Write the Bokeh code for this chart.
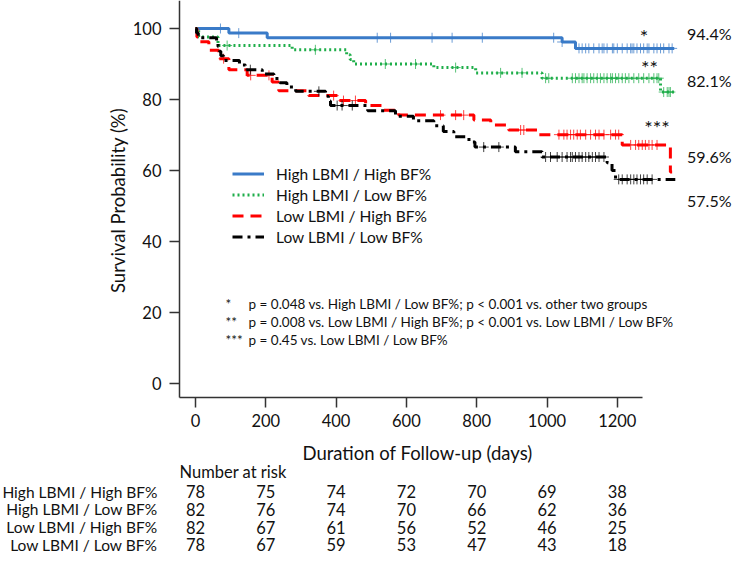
import numpy as np
from math import pi
from bokeh.plotting import figure
from bokeh.models import Range1d, FixedTicker, Legend, LegendItem
from bokeh.core.properties import value
from bokeh.embed import file_html
from bokeh.resources import INLINE

FONT = "Lato"

groups = ["High LBMI / High BF%", "High LBMI / Low BF%",
          "Low LBMI / High BF%", "Low LBMI / Low BF%"]

# Kaplan-Meier step points (days, survival %) and censor times (days)
hh_t = [0, 95, 204, 1043, 1081, 1362]
hh_s = [100, 98.7, 97.4, 96.2, 94.4, 94.4]
hh_c = [71, 123, 517, 555, 673, 730, 816, 1019, 1043, 1091, 1100, 1110, 1119, 1133,
        1148, 1157, 1162, 1171, 1186, 1190, 1200, 1214, 1228, 1238, 1242, 1247, 1256,
        1266, 1275, 1285, 1290, 1304, 1313, 1323, 1332, 1347, 1356]

hl_t = [0, 9, 64, 275, 430, 440, 450, 678, 797, 986, 1323, 1365]
hl_s = [100, 97.6, 95.2, 94.0, 92.6, 91.3, 90.0, 89.0, 87.5, 86.0, 82.1, 82.1]
hl_c = [90, 341, 540, 626, 740, 868, 929, 996, 1005, 1072, 1081, 1091, 1100, 1105,
        1114, 1124, 1133, 1143, 1152, 1162, 1171, 1181, 1186, 1195, 1204, 1214, 1223,
        1233, 1247, 1261, 1275, 1290, 1304, 1313, 1318, 1332, 1342, 1347, 1351]

lh_t = [0, 4, 9, 38, 66, 95, 147, 218, 237, 322, 408, 484, 536, 578, 792, 840, 891,
        972, 1214, 1351, 1356]
lh_s = [100, 97.6, 96.3, 93.9, 91.5, 88.4, 86.8, 84.9, 82.5, 81.1, 79.7, 78.3, 77.0,
        75.6, 74.2, 72.8, 71.4, 70.1, 67.2, 59.6, 59.6]
lh_c = [80, 157, 209, 393, 421, 455, 697, 740, 763, 925, 934, 1034, 1048, 1057, 1067,
        1076, 1086, 1095, 1110, 1124, 1138, 1148, 1162, 1181, 1195, 1204, 1238, 1252,
        1261, 1271, 1280, 1290, 1299, 1313]

ll_t = [0, 3, 8, 60, 64, 68, 72, 80, 125, 142, 190, 223, 240, 260, 285, 370, 378, 384,
        490, 569, 620, 678, 705, 735, 778, 795, 910, 986, 1171, 1185, 1195, 1365]
ll_s = [100, 98.7, 97.4, 96.2, 94.9, 93.6, 92.3, 91.0, 89.7, 88.4, 87.2, 85.9, 84.7,
        83.5, 82.3, 80.9, 79.6, 78.3, 76.8, 75.3, 74.0, 72.6, 71.0, 69.5, 68.0, 66.6,
        65.3, 63.8, 62.2, 60.0, 57.5, 57.5]
ll_c = [156, 351, 403, 417, 446, 820, 863, 996, 1010, 1029, 1043, 1057, 1067, 1072,
        1081, 1091, 1100, 1110, 1119, 1129, 1138, 1148, 1162, 1204, 1214, 1228, 1238,
        1247, 1256, 1266, 1275, 1285, 1299]

final_pct = ["94.4%", "82.1%", "59.6%", "57.5%"]
stars = ["*", "**", "***"]
notes = ["p = 0.048 vs. High LBMI / Low BF%; p < 0.001 vs. other two groups",
         "p = 0.008 vs. Low LBMI / High BF%; p < 0.001 vs. Low LBMI / Low BF%",
         "p = 0.45 vs. Low LBMI /  Low BF%"]

risk_days = [0, 200, 400, 600, 800, 1000, 1200]
risk_hh = [78, 75, 74, 72, 70, 69, 38]
risk_hl = [82, 76, 74, 70, 66, 62, 36]
risk_lh = [82, 67, 61, 56, 52, 46, 25]
risk_ll = [78, 67, 59, 53, 47, 43, 18]

x_ticks = [0, 200, 400, 600, 800, 1000, 1200]
y_ticks = [0, 20, 40, 60, 80, 100]

colors = ["#3a7bc8", "#1fae4a", "#ff0000", "#000000"]
dashes = ["solid", "2 3", "11 7", "10 5 3 5"]

series = [(hh_t, hh_s, hh_c), (hl_t, hl_s, hl_c), (lh_t, lh_s, lh_c), (ll_t, ll_s, ll_c)]
risks = [risk_hh, risk_hl, risk_lh, risk_ll]

TXT = "#111111"
W, H = 733, 558

# layout helpers: pixel position on the canvas -> data coordinates
X0_PX, DAY_PX = 195.0, 0.3515      # pixel of day 0, pixels per day
Y0_PX, PCT_PX = 383.0, 3.55        # pixel of 0 %, pixels per %


def dx(px):
    return (px - X0_PX) / DAY_PX


def dy(py):
    return (Y0_PX - py) / PCT_PX


p = figure(width=W, height=H, x_range=Range1d(dx(0), dx(W)),
           y_range=Range1d(dy(H), dy(0)), output_backend="svg",
           toolbar_location=None, min_border=0, min_border_left=0,
           min_border_right=0, min_border_top=0, min_border_bottom=0)
p.outline_line_color = None
p.grid.visible = False

x_axis_y = dy(397)
y_axis_x = dx(179)
for ax in (p.xaxis[0], p.yaxis[0]):
    ax.axis_line_color = "#333333"
    ax.axis_line_width = 1.5
    ax.major_tick_line_color = "#333333"
    ax.major_tick_line_width = 1.5
    ax.major_tick_out = 10
    ax.major_tick_in = 0
    ax.minor_tick_line_color = None
    ax.major_label_text_font = FONT
    ax.major_label_text_font_size = "16.5px"
    ax.major_label_text_color = TXT
    ax.major_label_standoff = 6
p.xaxis.ticker = FixedTicker(ticks=x_ticks)
p.yaxis.ticker = FixedTicker(ticks=y_ticks)
p.xaxis.fixed_location = x_axis_y
p.yaxis.fixed_location = y_axis_x
p.xaxis.bounds = (y_axis_x, dx(642))
p.yaxis.bounds = (x_axis_y, dy(0))
p.yaxis.major_label_standoff = 8

items = []
for (t, s, c), col, dash, name in zip(series, colors, dashes, groups):
    r = p.step(x=t, y=s, mode="after", line_color=col, line_width=3, line_dash=dash)
    t_arr = np.array(t)
    s_arr = np.array(s)
    idx = np.searchsorted(t_arr, np.array(c), side="right") - 1
    p.scatter(x=c, y=s_arr[idx], marker="cross", size=10, line_color=col,
              line_width=1, line_alpha=0.75)
    items.append(LegendItem(label=name, renderers=[r]))

legend = Legend(items=items, location=(232, 311), label_text_font=FONT,
                label_text_font_size="15.5px", label_text_color=TXT, glyph_width=32,
                glyph_height=21, label_height=21, spacing=0, padding=0,
                label_standoff=12, border_line_color=None, background_fill_alpha=0)
p.add_layout(legend)


def txt(xs, ys, texts, size="16px", align="left", angle=0.0):
    p.text(x=xs, y=ys, text=texts, text_font=value(FONT), text_font_size=size,
           text_align=align, text_baseline="middle", text_color=TXT, angle=angle)


# axis titles
txt([dx(117)], [dy(200)], ["Survival Probability (%)"], size="18.5px",
    align="center", angle=pi / 2)
txt([dx(417)], [dy(452)], ["Duration of Follow-up (days)"], size="18.5px",
    align="center")

# final survival labels (right side)
txt([dx(731)] * 4, [dy(33), dy(80), dy(156), dy(200)], final_pct, size="16px",
    align="right")

# significance stars
txt([dx(643.5), dx(649), dx(656.5)], [dy(35), dy(66), dy(126)], stars,
    size="20px", align="center")

# notes
note_y = [dy(303), dy(321.5), dy(339)]
txt([dx(225)] * 3, note_y, stars, size="13.5px")
txt([dx(248)] * 3, note_y, notes, size="13.5px")

# number-at-risk table
txt([dx(179)], [dy(471)], ["Number at risk"], size="16.5px")
row_y = [dy(491 + 17.8 * i) for i in range(len(groups))]
txt([dx(157)] * len(groups), row_y, groups, size="15.5px", align="right")
for yy, row in zip(row_y, risks):
    txt(risk_days, [yy] * len(risk_days), [str(n) for n in row], size="16.5px",
        align="center")

open("out.html", "w").write(file_html(p, INLINE))
